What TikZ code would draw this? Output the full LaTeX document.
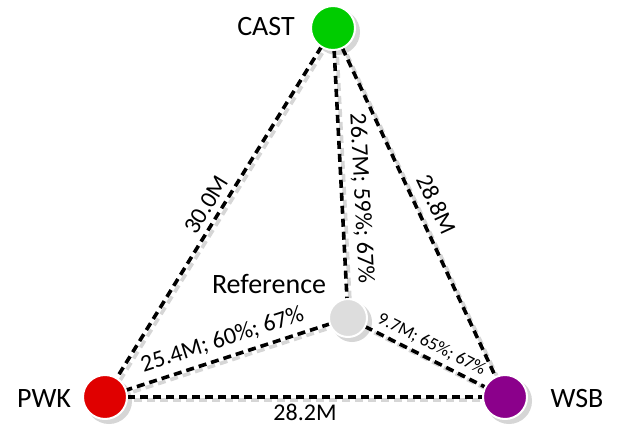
\documentclass[tikz,border=0pt]{standalone}
\usepackage{fontspec}
\setmainfont{Carlito}
\usetikzlibrary{backgrounds}
\definecolor{castgreen}{HTML}{00CC00}
\definecolor{pwkred}{HTML}{E00000}
\definecolor{wsbpurple}{HTML}{8B008B}
\definecolor{refgray}{HTML}{DDDDDD}
\definecolor{shadowgray}{HTML}{D6D6D6}
\begin{document}
\begin{tikzpicture}[x=1pt,y=-1pt,
  bubble/.style={circle, inner sep=0pt, outer sep=0pt, minimum size=44pt,
    draw=white, line width=2pt},
  bubshadow/.style={fill=shadowgray},
  tag/.style={font=\fontsize{28}{32}\selectfont, anchor=base, inner sep=0pt},
  conn/.style={draw=black, line width=3.6pt, dash pattern=on 8pt off 5pt},
  connshadow/.style={draw=shadowgray, line width=3.6pt, dash pattern=on 8pt off 5pt},
  elabel/.style={font=\fontsize{24}{28}\selectfont, sloped, inner sep=2pt},
]
\useasboundingbox (0,0) rectangle (624,426);

\node[bubble, fill=castgreen] (cast) at (333,28) {};
\node[bubble, fill=pwkred] (pwk) at (105,397) {};
\node[bubble, fill=wsbpurple] (wsb) at (505,397) {};
\node[bubble, fill=refgray, minimum size=38pt] (ref) at (348,318) {};

\node[tag] (castlbl) at (266,35) {CAST};
\node[tag] (pwklbl) at (44,407) {PWK};
\node[tag] (wsblbl) at (577,407) {WSB};
\node[tag] (reflbl) at (269,293) {Reference};

\begin{scope}[on background layer]
  % circle shadows
  \fill[bubshadow] ([xshift=4pt,yshift=-4pt]cast.center) circle (23pt);
  \fill[bubshadow] ([xshift=4pt,yshift=-4pt]pwk.center) circle (23pt);
  \fill[bubshadow] ([xshift=4pt,yshift=-4pt]wsb.center) circle (23pt);
  \fill[bubshadow] ([xshift=4pt,yshift=-4pt]ref.center) circle (20pt);
  % connector shadows
  \draw[connshadow] ([xshift=3pt,yshift=-3pt]cast.center) -- ([xshift=3pt,yshift=-3pt]pwk.center);
  \draw[connshadow] ([xshift=3pt,yshift=-3pt]cast.center) -- ([xshift=3pt,yshift=-3pt]ref.center);
  \draw[connshadow] ([xshift=3pt,yshift=-3pt]cast.center) -- ([xshift=3pt,yshift=-3pt]wsb.center);
  \draw[connshadow] ([xshift=3pt,yshift=-3pt]ref.center) -- ([xshift=3pt,yshift=-3pt]pwk.center);
  \draw[connshadow] ([xshift=3pt,yshift=-3pt]ref.center) -- ([xshift=3pt,yshift=-3pt]wsb.center);
  \draw[connshadow] ([xshift=3pt,yshift=-3pt]pwk.center) -- ([xshift=3pt,yshift=-3pt]wsb.center);
  % connectors
  \draw[conn] (cast) -- node[elabel, above=3pt] {30.0M} (pwk);
  \draw[conn] (cast) -- node[elabel, above=6pt, pos=0.6] {26.7M; 59\%; 67\%} (ref);
  \draw[conn] (cast) -- node[elabel, above=7pt] {28.8M} (wsb);
  \draw[conn] (ref) -- node[elabel, above=4.5pt] {25.4M; 60\%; 67\%} (pwk);
  \draw[conn] (ref) -- node[elabel, above=3pt, font=\fontsize{18}{22}\selectfont] {9.7M; 65\%; 67\%} (wsb);
  \draw[conn] (pwk) -- node[elabel, below=3pt] {28.2M} (wsb);
\end{scope}
\end{tikzpicture}
\end{document}
